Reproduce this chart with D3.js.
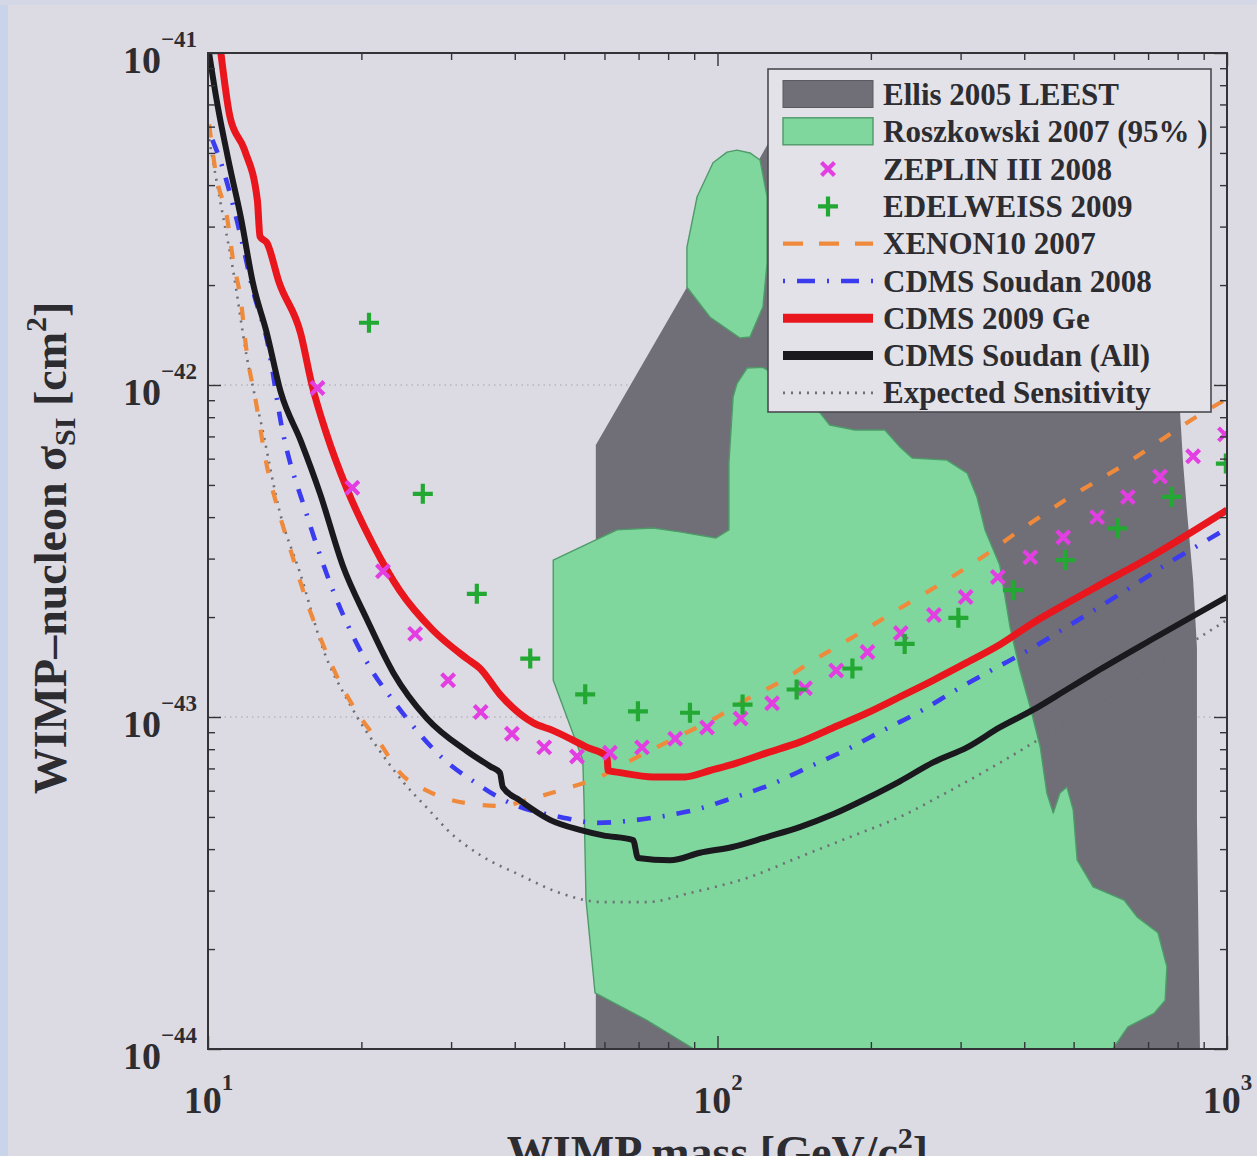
<!DOCTYPE html>
<html>
<head>
<meta charset="utf-8">
<script src="https://cdn.jsdelivr.net/npm/d3@7"></script>
<style>
  html, body { margin: 0; padding: 0; background: #dcdbe3; }
  svg { display: block; }
  text { font-family: "Liberation Serif", "Times New Roman", serif; font-weight: bold; }
</style>
</head>
<body>
<svg id="chart" width="1257" height="1156"></svg>
<script>
// Spin-independent WIMP–nucleon cross-section limits versus WIMP mass.
// Every point is [mass in GeV/c^2, cross-section in cm^2].

const xTickValues = [10, 100, 1000];
const xTickExponents = ["1", "2", "3"];
const yTickValues = [1e-41, 1e-42, 1e-43, 1e-44];
const yTickExponents = ["\u221241", "\u221242", "\u221243", "\u221244"];

// Ellis 2005 LEEST allowed region
const ellisRegion = [
  [57.7, 1e-44], [57.7, 6.6e-43], [87.1, 1.97e-42], [126.8, 5.47e-42], [773, 5.47e-42],
  [809, 8.24e-43], [820, 5.82e-43], [835, 4.12e-43], [858, 2.59e-43], [873, 1.62e-43],
  [873, 4.9e-44], [885, 1e-44]
];

// Roszkowski 2007 (95%) allowed regions: small upper island and main body
const roszkowskiIsland = [
  [109.2, 5.10e-42], [115.8, 5.0e-42], [121.2, 4.76e-42], [125.1, 3.69e-42], [125.1, 2.33e-42],
  [122.8, 1.72e-42], [115.8, 1.395e-42], [110.7, 1.385e-42], [96.7, 1.60e-42], [87.1, 1.97e-42],
  [87.1, 2.60e-42], [91.2, 3.69e-42], [98.0, 4.67e-42], [104.4, 5.03e-42]
];
const roszkowskiMain = [
  [47.6, 2.97e-43], [63.5, 3.66e-43], [74.7, 3.71e-43], [84.4, 3.61e-43], [99.3, 3.46e-43],
  [105.3, 3.66e-43], [105.3, 5.82e-43], [107.3, 9.2e-43], [109.2, 1.01e-42], [114.3, 1.125e-42],
  [122.8, 1.13e-42], [145, 9.66e-43], [159, 8.24e-43], [166, 7.58e-43], [186, 7.32e-43],
  [213, 7.32e-43], [228, 6.51e-43], [241, 6.03e-43], [282, 5.94e-43], [309, 5.43e-43],
  [323, 4.6e-43], [335, 3.66e-43], [358, 2.87e-43], [375, 1.87e-43], [392, 1.39e-43],
  [411, 1.07e-43], [430, 8.12e-44], [443, 5.9e-44], [456, 5.14e-44], [470, 5.9e-44],
  [485, 6.15e-44], [499, 5.25e-44], [508, 3.71e-44], [546, 3.08e-44], [628, 2.81e-44],
  [666, 2.5e-44], [732, 2.24e-44], [762, 1.77e-44], [756, 1.40e-44], [719, 1.28e-44],
  [639, 1.165e-44], [597, 1e-44], [89.9, 1e-44], [72.7, 1.22e-44], [57.5, 1.475e-44],
  [55.2, 2.81e-44], [54.7, 5.62e-44], [54.4, 7.42e-44], [47.6, 1.29e-43]
];

// ZEPLIN III 2008 limit points
const zeplin = [
  [16.4, 9.8e-43], [19.2, 4.9e-43], [22.05, 2.75e-43], [25.5, 1.78e-43], [29.6, 1.29e-43],
  [34.3, 1.035e-43], [39.5, 8.9e-44], [45.7, 8.1e-44], [53.0, 7.6e-44], [61.5, 7.8e-44],
  [71.1, 8.1e-44], [82.6, 8.6e-44], [95.4, 9.3e-44], [111, 9.9e-44], [128, 1.1e-43],
  [148.5, 1.22e-43], [171, 1.38e-43], [197, 1.57e-43], [229, 1.79e-43], [266, 2.03e-43],
  [307, 2.3e-43], [355, 2.64e-43], [411, 3.03e-43], [477, 3.48e-43], [556, 4.0e-43],
  [639, 4.6e-43], [739, 5.3e-43], [858, 6.1e-43], [991, 7.1e-43]
];

// EDELWEISS 2009 limit points
const edelweiss = [
  [20.7, 1.54e-42], [26.4, 4.7e-43], [33.7, 2.35e-43], [42.9, 1.5e-43], [55.0, 1.17e-43],
  [69.8, 1.04e-43], [88.3, 1.03e-43], [112, 1.09e-43], [143, 1.21e-43], [184, 1.4e-43],
  [233, 1.66e-43], [297, 1.99e-43], [380, 2.41e-43], [481, 2.97e-43], [611, 3.7e-43],
  [780, 4.6e-43], [995, 5.8e-43]
];

// XENON10 2007 limit curve
const xenon10 = [
  [10.05, 6.1e-42], [10.4, 4.2e-42], [10.9, 3.2e-42], [11.2, 2.38e-42], [11.6, 1.8e-42],
  [11.9, 1.27e-42], [12.4, 9.0e-43], [13.05, 5.7e-43], [13.8, 4.1e-43], [14.7, 3.0e-43],
  [15.6, 2.24e-43], [16.8, 1.66e-43], [18.2, 1.26e-43], [19.9, 1.0e-43], [21.8, 8.3e-44],
  [23.8, 6.8e-44], [26.9, 6.0e-44], [32.2, 5.5e-44], [37.4, 5.4e-44], [43.5, 5.7e-44],
  [50.7, 6.1e-44], [58.8, 6.6e-44], [66.4, 7.3e-44], [79.6, 8.4e-44], [101, 1.01e-43],
  [114, 1.13e-43], [134.5, 1.29e-43], [152, 1.46e-43], [174, 1.65e-43], [197, 1.85e-43],
  [225, 2.1e-43], [258, 2.38e-43], [295, 2.7e-43], [338, 3.1e-43], [387, 3.6e-43],
  [435, 4.06e-43], [492, 4.6e-43], [563, 5.2e-43], [645, 5.9e-43], [729, 6.7e-43],
  [835, 7.7e-43], [1000, 9.1e-43]
];

// CDMS Soudan 2008 limit curve
const cdmsSoudan2008 = [
  [10.2, 5.47e-42], [10.56, 4.76e-42], [11.2, 3.48e-42], [11.7, 2.64e-42], [12.25, 1.93e-42],
  [13.05, 1.37e-42], [14.0, 7.3e-43], [15.6, 4.1e-43], [17.6, 2.4e-43], [19.3, 1.74e-43],
  [21.1, 1.36e-43], [23.1, 1.12e-43], [25.7, 9.1e-44], [28.9, 7.5e-44], [33.7, 6.3e-44],
  [37.4, 5.7e-44], [40.4, 5.4e-44], [49.1, 5.0e-44], [58.0, 4.8e-44], [69.5, 4.9e-44],
  [80.7, 5.07e-44], [92.4, 5.3e-44], [107, 5.7e-44], [128.5, 6.3e-44], [152, 7.1e-44],
  [180, 8.0e-44], [211, 9.1e-44], [250, 1.04e-43], [295, 1.21e-43], [347, 1.39e-43],
  [411, 1.6e-43], [477, 1.84e-43], [563, 2.15e-43], [666, 2.53e-43], [773, 2.93e-43],
  [914, 3.41e-43], [1000, 3.7e-43]
];

// CDMS 2009 Ge limit curve
const cdms2009Ge = [
  [10.6, 1e-41], [11.05, 6.4e-42], [11.8, 5.1e-42], [12.5, 3.6e-42], [12.65, 2.8e-42],
  [13.05, 2.68e-42], [13.8, 2.03e-42], [15.2, 1.43e-42], [16.0, 1.0e-42], [17.1, 7.1e-43],
  [18.7, 4.9e-43], [21.1, 3.3e-43], [23.8, 2.4e-43], [27.6, 1.83e-43], [32.2, 1.5e-43],
  [34.2, 1.4e-43], [37.4, 1.17e-43], [43.5, 9.6e-44], [47.6, 9.1e-44], [55.5, 8.1e-44],
  [60.7, 7.6e-44], [61.0, 6.9e-44], [64.4, 6.8e-44], [74.7, 6.6e-44], [86.3, 6.6e-44],
  [96.7, 6.9e-44], [107, 7.2e-44], [125, 7.8e-44], [145, 8.4e-44], [169, 9.3e-44],
  [197, 1.03e-43], [228, 1.15e-43], [265, 1.29e-43], [309, 1.46e-43], [358, 1.65e-43],
  [416, 1.92e-43], [485, 2.2e-43], [563, 2.5e-43], [706, 3.03e-43], [1000, 4.2e-43]
];

// CDMS Soudan (all data) combined limit curve
const cdmsSoudanAll = [
  [10.05, 1e-41], [10.4, 7.2e-42], [11.05, 4.5e-42], [11.6, 3.2e-42], [12.25, 2.03e-42],
  [13.05, 1.43e-42], [13.9, 9.5e-43], [15.2, 6.8e-43], [16.6, 4.7e-43], [18.4, 2.85e-43],
  [20.5, 1.97e-43], [23.1, 1.36e-43], [26.9, 9.9e-44], [32.2, 7.9e-44], [35.8, 7.1e-44],
  [37.4, 6.8e-44], [37.9, 6.15e-44], [41.0, 5.6e-44], [46.9, 4.9e-44], [53.7, 4.57e-44],
  [59.6, 4.4e-44], [68.3, 4.26e-44], [69.8, 3.76e-44], [80.7, 3.7e-44], [92.4, 3.9e-44],
  [107, 4.06e-44], [125, 4.35e-44], [145, 4.66e-44], [169, 5.1e-44], [197, 5.7e-44],
  [228, 6.4e-44], [265, 7.3e-44], [309, 8.1e-44], [358, 9.3e-44], [416, 1.05e-43],
  [485, 1.21e-43], [563, 1.39e-43], [706, 1.7e-43], [1000, 2.3e-43]
];

// Expected sensitivity curve
const expectedSensitivity = [
  [10.05, 5.5e-42], [10.56, 3.6e-42], [11.2, 2.22e-42], [11.9, 1.23e-42], [12.8, 7.3e-43],
  [13.8, 4.2e-43], [15.2, 2.68e-43], [16.8, 1.61e-43], [19.0, 1.09e-43], [21.8, 7.85e-44],
  [24.1, 6.4e-44], [27.3, 5.2e-44], [29.5, 4.57e-44], [34.2, 3.84e-44], [41.0, 3.34e-44],
  [49.1, 2.95e-44], [59.6, 2.77e-44], [72.7, 2.77e-44], [88.3, 2.95e-44], [116, 3.3e-44],
  [145, 3.79e-44], [182, 4.35e-44], [228, 5.0e-44], [286, 6.0e-44], [358, 7.27e-44],
  [416, 8.35e-44], [485, 9.6e-44], [563, 1.1e-43], [706, 1.39e-43], [1000, 1.96e-43]
];

const legendLabels = [
  "Ellis 2005 LEEST", "Roszkowski 2007 (95% )", "ZEPLIN III 2008", "EDELWEISS 2009",
  "XENON10 2007", "CDMS Soudan 2008", "CDMS 2009 Ge", "CDMS Soudan (All)", "Expected Sensitivity"
];

// ---------------------------------------------------------------------------
const svg = d3.select("#chart");
const W = 1257, H = 1156;
const box = { left: 208, right: 1227, top: 53, bottom: 1049 };

const x = d3.scaleLog().domain([10, 1000]).range([box.left, box.right]);
const y = d3.scaleLog().domain([1e-44, 1e-41]).range([box.bottom, box.top]);

const colors = {
  ellis: "#706f77", rosz: "#80d79e", roszEdge: "#4f9a69",
  zeplin: "#e23ee2", edel: "#22a833", xenon: "#ef8a3c",
  cdms08: "#3b3bef", cdms09: "#ea161e", cdmsAll: "#19191e", expected: "#6e6e74",
  axis: "#333338", text: "#2c2c31"
};

// page background and a pale frame strip along the left/top
svg.append("rect").attr("width", W).attr("height", H).attr("fill", "#dcdbe3");
svg.append("rect").attr("x", 0).attr("y", 0).attr("width", 8).attr("height", H).attr("fill", "#c9d4ea");
svg.append("rect").attr("x", 0).attr("y", 0).attr("width", W).attr("height", 5).attr("fill", "#d3d7e6");

svg.append("defs").append("clipPath").attr("id", "plot-clip")
  .append("rect")
  .attr("x", box.left).attr("y", box.top)
  .attr("width", box.right - box.left).attr("height", box.bottom - box.top);

// dotted horizontal grid at interior decades
svg.append("g").selectAll("line")
  .data(yTickValues.slice(1, 3))
  .join("line")
  .attr("x1", box.left).attr("x2", box.right)
  .attr("y1", d => y(d)).attr("y2", d => y(d))
  .attr("stroke", "#a3a2aa").attr("stroke-width", 1.2).attr("stroke-dasharray", "1.5 4");

const plot = svg.append("g").attr("clip-path", "url(#plot-clip)");

const outline = d3.line().x(d => x(d[0])).y(d => y(d[1]));
const area = pts => outline(pts) + "Z";
const curve = d3.line().x(d => x(d[0])).y(d => y(d[1])).curve(d3.curveMonotoneX);

// allowed regions
plot.append("path").attr("d", area(ellisRegion)).attr("fill", colors.ellis);
[roszkowskiMain, roszkowskiIsland].forEach(r => {
  plot.append("path").attr("d", area(r))
    .attr("fill", colors.rosz).attr("stroke", colors.roszEdge).attr("stroke-width", 1.4)
    .attr("stroke-linejoin", "round");
});

// limit curves
plot.append("path").attr("d", curve(expectedSensitivity))
  .attr("fill", "none").attr("stroke", colors.expected).attr("stroke-width", 2.6)
  .attr("stroke-dasharray", "2 6");
plot.append("path").attr("d", curve(xenon10))
  .attr("fill", "none").attr("stroke", colors.xenon).attr("stroke-width", 4.2)
  .attr("stroke-dasharray", "13 18");
plot.append("path").attr("d", curve(cdmsSoudan2008))
  .attr("fill", "none").attr("stroke", colors.cdms08).attr("stroke-width", 4.6)
  .attr("stroke-dasharray", "14 12 2 12");
plot.append("path").attr("d", curve(cdms2009Ge))
  .attr("fill", "none").attr("stroke", colors.cdms09).attr("stroke-width", 7)
  .attr("stroke-linejoin", "round");
plot.append("path").attr("d", curve(cdmsSoudanAll))
  .attr("fill", "none").attr("stroke", colors.cdmsAll).attr("stroke-width", 6)
  .attr("stroke-linejoin", "round");

// point limits
const crossPath = "M-6.5,-6.5L6.5,6.5M-6.5,6.5L6.5,-6.5";
const plusPath = "M-10,0H10M0,-10V10";
plot.append("g").selectAll("path").data(zeplin).join("path")
  .attr("transform", d => `translate(${x(d[0])},${y(d[1])})`)
  .attr("d", crossPath).attr("stroke", colors.zeplin).attr("stroke-width", 4.2).attr("fill", "none");
plot.append("g").selectAll("path").data(edelweiss).join("path")
  .attr("transform", d => `translate(${x(d[0])},${y(d[1])})`)
  .attr("d", plusPath).attr("stroke", colors.edel).attr("stroke-width", 4.2).attr("fill", "none");

// ---------------------------------------------------------------------------
// axes: inward ticks on all four sides
const xMinor = [], yMinor = [];
[10, 100].forEach(d => { for (let k = 2; k <= 9; k++) xMinor.push(d * k); });
[1e-44, 1e-43, 1e-42].forEach(d => { for (let k = 2; k <= 9; k++) yMinor.push(d * k); });

function tickGroup(axis, tx, ty) {
  const g = svg.append("g").attr("transform", `translate(${tx},${ty})`)
    .attr("color", colors.axis).call(axis);
  g.select(".domain").remove();
  g.selectAll(".tick line").attr("stroke-width", 1.4);
  return g;
}

tickGroup(d3.axisTop(x).tickValues(xTickValues).tickSize(-13).tickFormat(""), 0, box.top);
tickGroup(d3.axisTop(x).tickValues(xMinor).tickSize(-7).tickFormat(""), 0, box.top);
tickGroup(d3.axisRight(y).tickValues(yTickValues).tickSize(-13).tickFormat(""), box.right, 0);
tickGroup(d3.axisRight(y).tickValues(yMinor).tickSize(-7).tickFormat(""), box.right, 0);
tickGroup(d3.axisBottom(x).tickValues(xMinor).tickSize(-7).tickFormat(""), 0, box.bottom);
tickGroup(d3.axisLeft(y).tickValues(yMinor).tickSize(-7).tickFormat(""), box.left, 0);

const xAxisG = tickGroup(d3.axisBottom(x).tickValues(xTickValues).tickSize(-13).tickPadding(64).tickFormat(""), 0, box.bottom);
xAxisG.selectAll(".tick text").attr("dy", null).attr("fill", colors.text)
  .attr("text-anchor", "middle")
  .each(function (d, i) {
    const t = d3.select(this).text(null);
    t.append("tspan").style("font-size", "38px").text("10");
    t.append("tspan").attr("dy", -23).style("font-size", "23px").text(xTickExponents[i]);
  });

const yAxisG = tickGroup(d3.axisLeft(y).tickValues(yTickValues).tickSize(-13).tickPadding(11).tickFormat(""), box.left, 0);
yAxisG.selectAll(".tick text").attr("dy", null).attr("y", 19).attr("fill", colors.text)
  .each(function (d, i) {
    const t = d3.select(this).text(null);
    t.append("tspan").style("font-size", "38px").text("10");
    t.append("tspan").attr("dy", -26).style("font-size", "23px").text(yTickExponents[i]);
  });

// plot frame
svg.append("rect")
  .attr("x", box.left).attr("y", box.top)
  .attr("width", box.right - box.left).attr("height", box.bottom - box.top)
  .attr("fill", "none").attr("stroke", colors.axis).attr("stroke-width", 2);

// axis titles (the mass title sits at the lower page edge)
const xTitle = svg.append("text")
  .attr("x", x(100)).attr("y", 1168).attr("text-anchor", "middle")
  .attr("fill", colors.text).style("font-size", "46px");
xTitle.append("tspan").text("WIMP mass [GeV/c");
xTitle.append("tspan").attr("dy", -20).style("font-size", "30px").text("2");
xTitle.append("tspan").attr("dy", 20).text("]");

const yTitle = svg.append("text")
  .attr("transform", "translate(66,548) rotate(-90)").attr("text-anchor", "middle")
  .attr("fill", colors.text).style("font-size", "46px");
yTitle.append("tspan").text("WIMP\u2013nucleon \u03c3");
yTitle.append("tspan").attr("dy", 9).style("font-size", "30px").text("SI");
yTitle.append("tspan").attr("dy", -9).text(" [cm");
yTitle.append("tspan").attr("dy", -20).style("font-size", "30px").text("2");
yTitle.append("tspan").attr("dy", 20).text("]");

// ---------------------------------------------------------------------------
// legend
const lg = svg.append("g");
const lgX = 768, lgY = 69, lgW = 443, lgH = 343;
lg.append("rect").attr("x", lgX).attr("y", lgY).attr("width", lgW).attr("height", lgH)
  .attr("fill", "#e3e2e8").attr("stroke", "#4a4a50").attr("stroke-width", 1.6);

const rowY = i => 94.5 + i * 37.3;
const symX0 = 783, symX1 = 873, symXc = 828;

legendLabels.forEach((label, i) => {
  lg.append("text").attr("x", 883).attr("y", rowY(i) + 10.5)
    .attr("fill", colors.text).style("font-size", "31px").text(label);
});

lg.append("rect").attr("x", symX0).attr("y", rowY(0) - 14).attr("width", symX1 - symX0).attr("height", 27)
  .attr("fill", colors.ellis).attr("stroke", "#5a5a60").attr("stroke-width", 1);
lg.append("rect").attr("x", symX0).attr("y", rowY(1) - 14).attr("width", symX1 - symX0).attr("height", 27)
  .attr("fill", colors.rosz).attr("stroke", colors.roszEdge).attr("stroke-width", 1.4);
lg.append("path").attr("transform", `translate(${symXc},${rowY(2)})`).attr("d", crossPath)
  .attr("stroke", colors.zeplin).attr("stroke-width", 4.2);
lg.append("path").attr("transform", `translate(${symXc},${rowY(3)})`).attr("d", plusPath)
  .attr("stroke", colors.edel).attr("stroke-width", 4.2);

const legendLines = [
  { row: 4, color: colors.xenon, width: 4.2, dash: "20 16" },
  { row: 5, color: colors.cdms08, width: 4.6, dash: "2 12 18 12" },
  { row: 6, color: colors.cdms09, width: 9, dash: null },
  { row: 7, color: colors.cdmsAll, width: 9, dash: null },
  { row: 8, color: colors.expected, width: 2.6, dash: "2 6" }
];
legendLines.forEach(s => {
  lg.append("line").attr("x1", symX0).attr("x2", symX1)
    .attr("y1", rowY(s.row)).attr("y2", rowY(s.row))
    .attr("stroke", s.color).attr("stroke-width", s.width)
    .attr("stroke-dasharray", s.dash);
});
</script>
</body>
</html>
